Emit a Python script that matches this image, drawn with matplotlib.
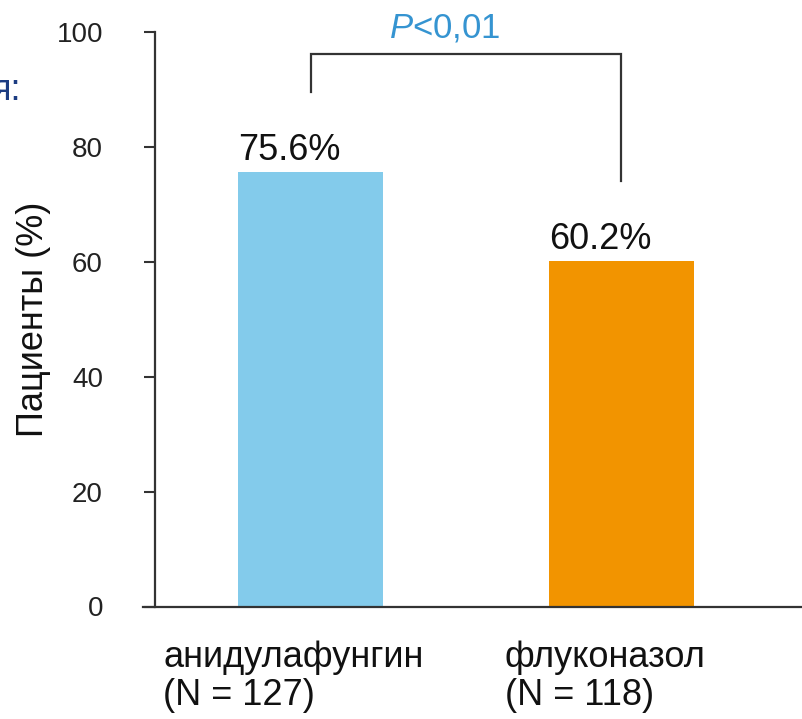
import matplotlib
matplotlib.use('Agg')
import matplotlib.pyplot as plt
import numpy as np

plt.rcParams['font.family'] = ['Liberation Sans', 'DejaVu Sans']
plt.rcParams['mathtext.fontset'] = 'custom'
plt.rcParams['mathtext.it'] = 'Liberation Sans:italic'
plt.rcParams['mathtext.rm'] = 'Liberation Sans'

# data
drugs = ['анидулафунгин', 'флуконазол']
n_patients = [127, 118]
percent = [75.6, 60.2]
bar_colors = ['#83cbeb', '#f29400']
p_text = r'$\mathit{P}$<0,01'

############ plot ############
fig = plt.figure(figsize=(8.02, 7.19), dpi=100)
ax = fig.add_axes([143 / 802, 112.5 / 719, 1 - 143 / 802, (606.5 - 32) / 719])

x = np.arange(len(drugs))
bar_w = 0.466
ax.bar(x, percent, width=bar_w, color=bar_colors, zorder=2)

ax.set_xlim(-0.5386, 1.5804)
ax.set_ylim(0, 100)
ax.set_yticks([0, 20, 40, 60, 80, 100])
ax.set_xticks([])

for s in ['top', 'right']:
    ax.spines[s].set_visible(False)
ax.spines['left'].set_position(('data', -0.5))
ax.spines['left'].set_bounds(0, 100)
for s in ['left', 'bottom']:
    ax.spines[s].set_color('#333333')
    ax.spines[s].set_linewidth(1.6)

ax.tick_params(axis='y', direction='out', length=8, width=1.5, color='#333333',
               pad=29.5, labelsize=20, labelcolor='#222222')
ax.set_ylabel('Пациенты (%)', fontsize=26, color='#111111', labelpad=4)

# value labels, roughly left aligned with the bars
for i, v in enumerate(percent):
    ax.text(x[i] - bar_w / 2, v + 2.1, '%.1f%%' % v, ha='left', va='baseline',
            fontsize=26, color='#111111')

# category labels under the axis
name_x = [-0.474, 0.625]
for i in range(len(drugs)):
    ax.text(name_x[i], -10.5, drugs[i], ha='left', va='baseline',
            fontsize=26, color='#111111', clip_on=False)
    ax.text(name_x[i], -17.1, '(N = %d)' % n_patients[i], ha='left', va='baseline',
            fontsize=26, color='#111111', clip_on=False)

# significance bracket
ax.plot([0, 0, 1, 1], [89.5, 96.1, 96.1, 74.0], color='#333333', lw=1.6,
        clip_on=False, solid_joinstyle='miter')
ax.text(0.432, 99.1, p_text, ha='center', va='baseline', fontsize=25,
        color='#3594d1', clip_on=False)

# clipped leftover of a title from the slide
fig.text(21 / 802, 1 - 100 / 719, 'я:', ha='right', va='baseline',
         fontsize=26, color='#1c3c82')

fig.savefig('out.png', dpi=100)
